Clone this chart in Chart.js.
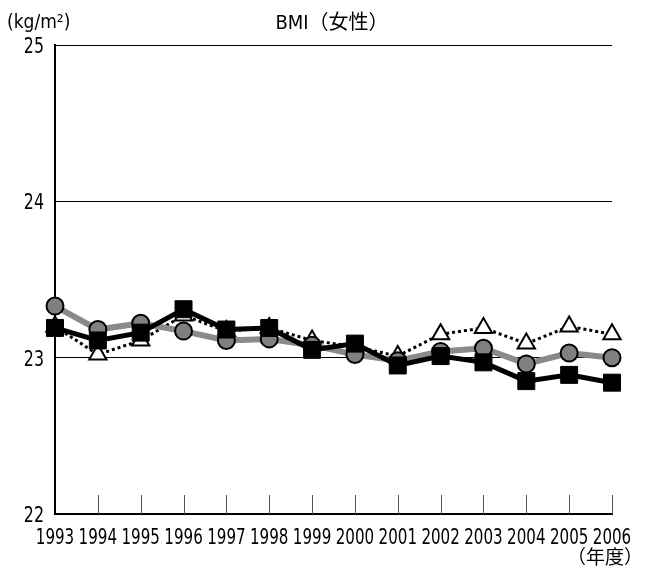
<!DOCTYPE html>
<html>
<head>
<meta charset="utf-8">
<script src="https://cdn.jsdelivr.net/npm/chart.js@4"></script>
<style>
  html, body { margin: 0; padding: 0; background: #fff; }
  #wrap { width: 653px; height: 572px; }
</style>
</head>
<body>
<div id="wrap"><canvas id="bmiChart" width="653" height="572"></canvas></div>
<script>
const years = ['1993', '1994', '1995', '1996', '1997', '1998', '1999', '2000', '2001', '2002', '2003', '2004', '2005', '2006'];
const triangleSeries = [23.20, 23.02, 23.11, 23.27, 23.17, 23.19, 23.11, 23.07, 23.01, 23.15, 23.19, 23.09, 23.20, 23.15];
const circleSeries = [23.33, 23.18, 23.22, 23.17, 23.11, 23.12, 23.08, 23.02, 22.98, 23.04, 23.06, 22.96, 23.03, 23.00];
const squareSeries = [23.19, 23.11, 23.16, 23.31, 23.18, 23.19, 23.05, 23.09, 22.95, 23.01, 22.97, 22.85, 22.89, 22.84];
const yTicks = [22, 23, 24, 25];

const FONT = '"DejaVu Sans Condensed", "Noto Sans CJK JP", sans-serif';
const CJK = '"Noto Sans CJK JP", sans-serif';
const NARROW = 0.8; // squeeze the digits like the original narrow gothic

// inner tick marks, tick labels, title and unit labels
const extras = {
  id: 'extras',
  beforeDatasetsDraw(chart) {
    const ctx = chart.ctx;
    const x = chart.scales.x;
    const bottom = chart.chartArea.bottom;
    ctx.save();
    ctx.strokeStyle = '#555';
    ctx.lineWidth = 1;
    for (let i = 1; i < years.length; i++) {
      const px = Math.round(x.getPixelForTick(i)) + 0.5;
      ctx.beginPath();
      ctx.moveTo(px, bottom);
      ctx.lineTo(px, bottom - 19);
      ctx.stroke();
    }
    ctx.restore();
  },
  afterDraw(chart) {
    const ctx = chart.ctx;
    const x = chart.scales.x;
    const y = chart.scales.y;
    ctx.save();
    ctx.fillStyle = '#000';
    ctx.textBaseline = 'alphabetic';

    // tick labels
    ctx.save();
    ctx.scale(NARROW, 1);
    ctx.font = '21px ' + FONT;
    ctx.textAlign = 'center';
    years.forEach((label, i) => {
      ctx.fillText(label, x.getPixelForTick(i) / NARROW, 544);
    });
    ctx.font = '22px ' + FONT;
    ctx.textAlign = 'right';
    yTicks.forEach(v => {
      ctx.fillText(String(v), 44 / NARROW, y.getPixelForValue(v) + 8);
    });
    ctx.restore();

    // title and units
    ctx.font = '19px ' + FONT;
    ctx.textAlign = 'left';
    ctx.fillText('(kg/m²)', 7, 28);
    ctx.font = '20px ' + FONT;
    ctx.textAlign = 'center';
    ctx.fillText('BMI（女性）', 332, 29);
    ctx.font = '19px ' + CJK;
    ctx.textAlign = 'right';
    ctx.fillText('（年度）', 643, 564);
    ctx.restore();
  }
};

const ctx = document.getElementById('bmiChart').getContext('2d');

new Chart(ctx, {
  type: 'line',
  data: {
    labels: years,
    datasets: [
      {
        label: '△',
        data: triangleSeries,
        borderColor: '#000',
        borderWidth: 3,
        borderDash: [3, 3],
        pointStyle: 'triangle',
        pointRadius: 10,
        pointBackgroundColor: '#fff',
        pointBorderColor: '#000',
        pointBorderWidth: 2,
        tension: 0,
        order: 3
      },
      {
        label: '●',
        data: circleSeries,
        borderColor: '#8a8a8a',
        borderWidth: 6,
        pointStyle: 'circle',
        pointRadius: 8.5,
        pointBackgroundColor: '#808080',
        pointBorderColor: '#000',
        pointBorderWidth: 2,
        tension: 0,
        order: 2
      },
      {
        label: '■',
        data: squareSeries,
        borderColor: '#000',
        borderWidth: 5,
        pointStyle: 'rect',
        pointRadius: 12,
        pointBackgroundColor: '#000',
        pointBorderColor: '#000',
        pointBorderWidth: 1,
        tension: 0,
        order: 1
      }
    ]
  },
  options: {
    responsive: false,
    animation: false,
    layout: { padding: { left: 0, right: 41, top: 45, bottom: 28 } },
    plugins: {
      legend: { display: false },
      tooltip: { enabled: false },
      title: { display: false }
    },
    scales: {
      x: {
        offset: false,
        grid: { display: false, drawTicks: false },
        border: { color: '#000', width: 2 },
        ticks: { display: false, autoSkip: false, maxRotation: 0 },
        afterFit(scale) { scale.height = 30; }
      },
      y: {
        min: yTicks[0],
        max: yTicks[yTicks.length - 1],
        afterBuildTicks(scale) { scale.ticks = yTicks.map(v => ({ value: v })); },
        grid: { color: '#000', lineWidth: 1, drawTicks: false },
        border: { color: '#000', width: 2 },
        ticks: { display: false },
        afterFit(scale) { scale.width = 55; }
      }
    }
  },
  plugins: [extras]
});
</script>
</body>
</html>
